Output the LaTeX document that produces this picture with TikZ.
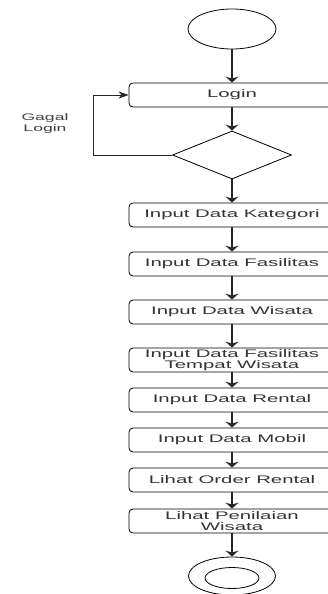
\documentclass[tikz,border=0pt]{standalone}
\usepackage{fontspec}
\setmainfont{Liberation Sans}
\newfontfamily\flowfont[FakeStretch=1.85]{Liberation Sans}
\usetikzlibrary{shapes.geometric,arrows.meta}

\begin{document}
\begin{tikzpicture}[
    x=1pt, y=-1pt,
    proses/.style={rectangle, draw, rounded corners=4pt, line width=0.8pt, minimum width=206pt, minimum height=24pt, inner sep=0pt, align=center, font=\flowfont\fontsize{11}{11.5}\selectfont, text=black!80},
    keputusan/.style={diamond, draw, line width=0.8pt, minimum width=119pt, minimum height=48pt, inner sep=0pt},
    awal/.style={ellipse, draw, line width=0.8pt, minimum width=88pt, minimum height=40pt, inner sep=0pt},
    arrow/.style={-{Stealth[length=6pt, width=13pt, inset=2pt]}, line width=1.5pt, black!85},
    balik/.style={-{Stealth[length=10pt, width=7pt, inset=3pt]}, line width=0.8pt, black!85}
]
    \useasboundingbox (0,0) rectangle (328,594);

    \node[awal] (start) at (232,29) {};
    \node[proses] (login) at (232,95) {Login};
    \node[keputusan] (cek) at (232,155) {};
    \node[proses] (kategori) at (232,215) {Input Data Kategori};
    \node[proses] (fasilitas) at (232,264) {Input Data Fasilitas};
    \node[proses] (wisata) at (232,312) {Input Data Wisata};
    \node[proses] (tempat) at (232,360) {Input Data Fasilitas\\Tempat Wisata};
    \node[proses] (rental) at (232,400) {Input Data Rental};
    \node[proses] (mobil) at (232,440) {Input Data Mobil};
    \node[proses] (order) at (232,480) {Lihat Order Rental};
    \node[proses] (penilaian) at (232,521) {Lihat Penilaian\\Wisata};
    \node[awal, minimum width=87pt, minimum height=38pt] (stop) at (232,576) {};
    \node[awal, minimum width=54pt, minimum height=21pt] (stopin) at (232,578) {};

    \node[align=center, font=\flowfont\fontsize{9.5}{11}\selectfont, text=black!75] (gagal) at (45,124) {Gagal\\Login};

    \draw[arrow] (start) -- (login);
    \draw[arrow] (login) -- (cek);
    \draw[balik] (cek.west) -- ++(-79,0) |- (login.west);
    \draw[arrow] (cek) -- (kategori);
    \draw[arrow] (kategori) -- (fasilitas);
    \draw[arrow] (fasilitas) -- (wisata);
    \draw[arrow] (wisata) -- (tempat);
    \draw[arrow] (tempat) -- (rental);
    \draw[arrow] (rental) -- (mobil);
    \draw[arrow] (mobil) -- (order);
    \draw[arrow] (order) -- (penilaian);
    \draw[arrow] (penilaian) -- (stop);
\end{tikzpicture}
\end{document}
